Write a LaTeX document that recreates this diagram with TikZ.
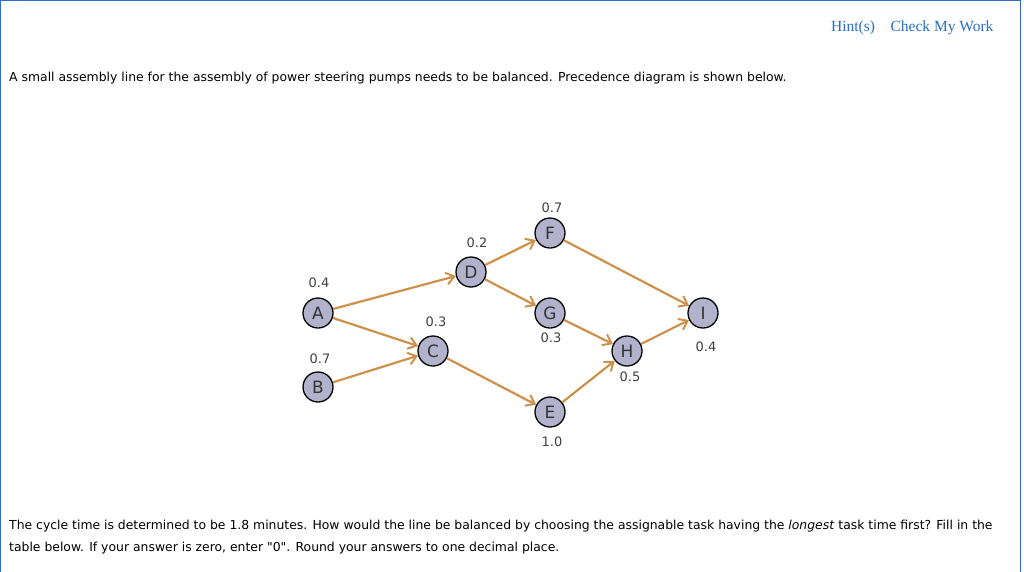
\documentclass[tikz,border=0pt]{standalone}
\usepackage{fontspec}
\setmainfont{DejaVu Sans}
\newfontfamily\hintfont{Liberation Serif}
\usetikzlibrary{arrows.meta}
\definecolor{arr}{RGB}{205,145,75}
\definecolor{nfill}{RGB}{178,178,204}
\definecolor{lnk}{RGB}{40,110,200}
\definecolor{frm}{RGB}{50,110,200}
\begin{document}
\begin{tikzpicture}[x=1pt,y=-1pt,
  task/.style={circle,draw=black,line width=1.3pt,fill=nfill,minimum size=30pt,inner sep=0pt,font=\fontsize{17}{17}\selectfont\color{black!80}},
  val/.style={font=\fontsize{13}{13}\selectfont,text=black!75},
  edge/.style={draw=arr,line width=2.2pt,-{Straight Barb[length=8pt,width=12pt,line width=2pt]}},
  txt/.style={anchor=west,font=\fontsize{12.4}{14}\selectfont,inner sep=0pt}]
\useasboundingbox (0,0) rectangle (1024,571);
\fill[white] (0,0) rectangle (1024,571);
\draw[frm,line width=1pt] (0.5,575) -- (0.5,0.5) -- (1020.5,0.5) -- (1020.5,575);
\node[anchor=east,text=lnk,font=\hintfont\fontsize{15.5}{16}\selectfont] (hint) at (997,28) {Hint(s)\quad Check My Work};
\node[txt] (t1) at (9,78) {A small assembly line for the assembly of power steering pumps needs to be balanced. Precedence diagram is shown below.};
\node[txt] (t2) at (9,526) {The cycle time is determined to be 1.8 minutes. How would the line be balanced by choosing the assignable task having the \textit{longest} task time first? Fill in the};
\node[txt] (t3) at (9,548) {table below. If your answer is zero, enter \textquotedbl 0\textquotedbl. Round your answers to one decimal place.};
\node[task] (A) at (318,313) {A};
\node[task] (B) at (318,387) {B};
\node[task] (C) at (433,351) {C};
\node[task] (D) at (471,272) {D};
\node[task] (F) at (550,233) {F};
\node[task] (G) at (550,313) {G};
\node[task] (E) at (550,412) {E};
\node[task] (H) at (627,351) {H};
\node[task] (I) at (703,313) {I};
\node[val] (vA) at (319,283) {0.4};
\node[val] (vB) at (320,359) {0.7};
\node[val] (vC) at (436,322) {0.3};
\node[val] (vD) at (477,243) {0.2};
\node[val] (vF) at (552,208) {0.7};
\node[val] (vG) at (551,338) {0.3};
\node[val] (vE) at (552,442) {1.0};
\node[val] (vH) at (630,377) {0.5};
\node[val] (vI) at (706,347) {0.4};
\path[edge] (A) -- (D);
\path[edge] (A) -- (C);
\path[edge] (B) -- (C);
\path[edge] (D) -- (F);
\path[edge] (D) -- (G);
\path[edge] (C) -- (E);
\path[edge] (F) -- (I);
\path[edge] (G) -- (H);
\path[edge] (E) -- (H);
\path[edge] (H) -- (I);
\end{tikzpicture}
\end{document}
